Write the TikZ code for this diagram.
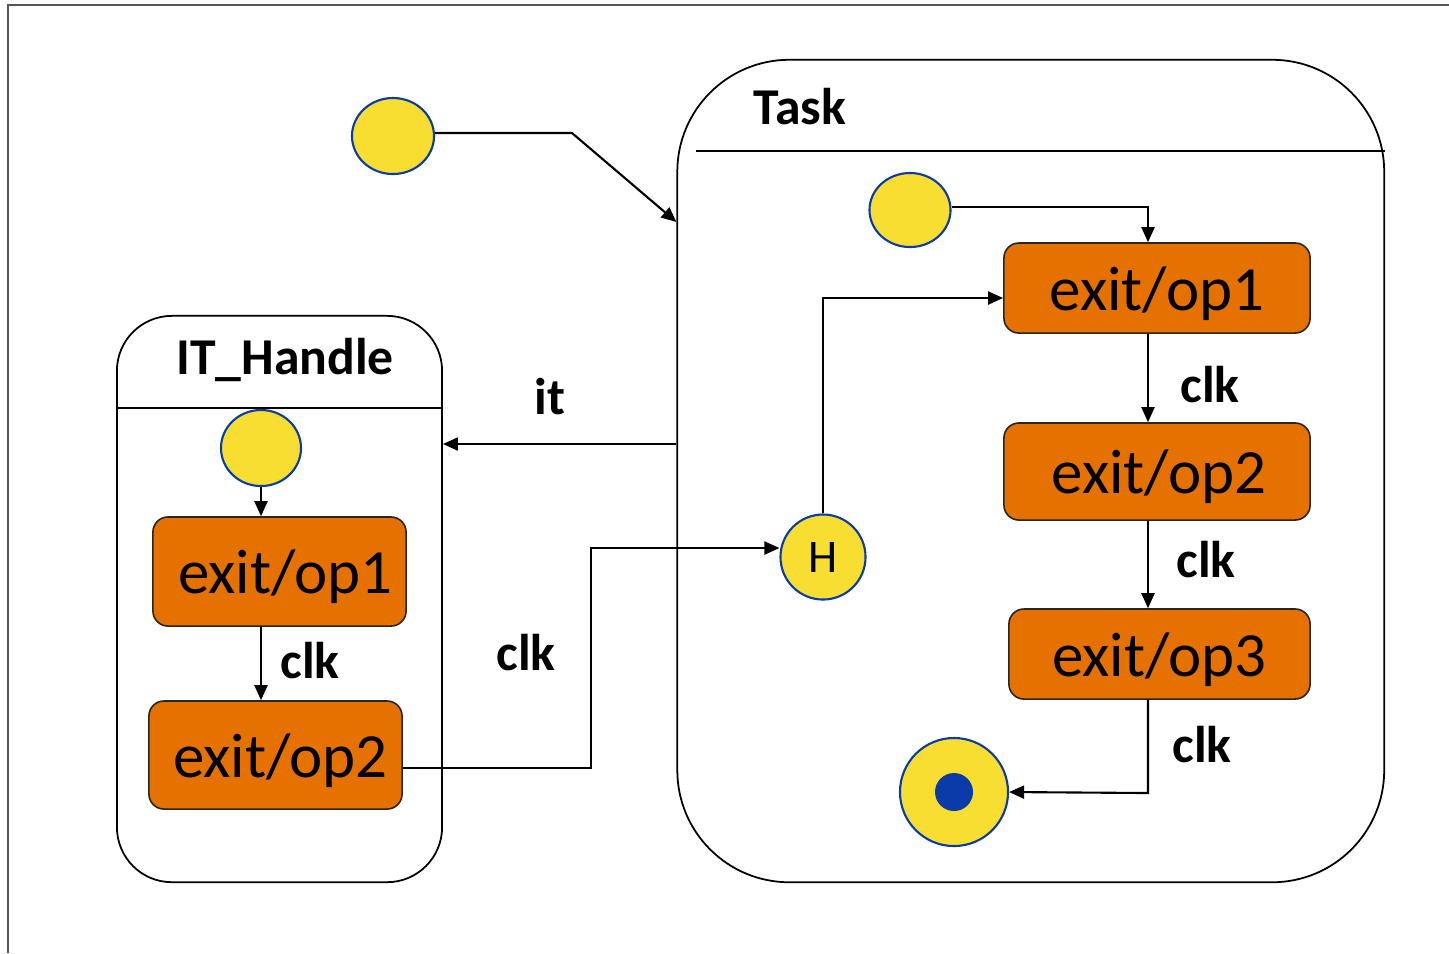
\documentclass[tikz,border=0pt]{standalone}
\usepackage{fontspec}
\setmainfont{Carlito}
\usetikzlibrary{arrows.meta,shapes.geometric}
\definecolor{stateyellow}{HTML}{F8DE30}
\definecolor{stateblue}{HTML}{0A3BA8}
\definecolor{actorange}{HTML}{E57200}
\definecolor{framegray}{HTML}{555555}
\tikzset{
  pseudo/.style={ellipse, fill=stateyellow, draw=stateblue, line width=0.6pt, inner sep=0pt},
  act/.style={rectangle, rounded corners=0.15cm, fill=actorange, draw=black!85, line width=0.45pt,
    inner sep=0pt, text height=12.6pt, text depth=0pt, font=\fontsize{17.9}{20}\selectfont},
  container/.style={rectangle, draw=black, line width=0.5pt, inner sep=0pt},
  conn/.style={line width=0.6pt, -{Triangle[length=0.15cm, width=0.13cm]}},
  evlabel/.style={font=\bfseries\fontsize{14.7}{17}\selectfont, inner sep=0pt},
}
\begin{document}
\begin{tikzpicture}[x=0.01cm, y=-0.01cm]
\useasboundingbox (0,0) rectangle (1449,953);
% outer frame
\draw[framegray, line width=0.6pt] (8,953) -- (8,5) -- (1449,5);

% composite state: Task
\node[container, rounded corners=1.12cm, minimum width=7.065cm, minimum height=8.22cm] (task) at (1030.75,471) {};
\draw[line width=0.45pt] (696,151) -- (task.east |- 0,151);
\node[evlabel] (tasktitle) at (800,107) {Task};

% composite state: IT_Handle
\node[container, rounded corners=0.55cm, minimum width=3.25cm, minimum height=5.66cm] (ith) at (279.5,599) {};
\draw[line width=0.45pt] (ith.west |- 0,408) -- (ith.east |- 0,408);
\node[evlabel] (ittitle) at (285,360) {IT\_Handle};

% top-level initial state
\node[pseudo, minimum width=0.82cm, minimum height=0.76cm] (init) at (393,136) {};

% states inside Task
\node[pseudo, minimum width=0.81cm, minimum height=0.74cm] (tinit) at (910,210) {};
\node[act, minimum width=3.06cm, minimum height=0.90cm] (op1t) at (1157,288) {exit/op1};
\node[act, minimum width=3.06cm, minimum height=0.97cm] (op2t) at (1157,471.5) {\hspace*{0.04cm}exit/op2};
\node[act, minimum width=3.01cm, minimum height=0.90cm] (op3t) at (1159.5,654) {exit/op3};
\node[pseudo, circle, minimum size=0.85cm, font=\fontsize{13.3}{15}\selectfont] (hist) at (823,557) {H};
\node[circle, fill=stateyellow, draw=stateblue, line width=0.6pt, minimum size=1.08cm, inner sep=0pt] (final) at (954,792) {};
\node[circle, fill=stateblue, minimum size=0.38cm, inner sep=0pt] (finaldot) at (final.center) {};

% states inside IT_Handle
\node[pseudo, minimum width=0.80cm, minimum height=0.76cm] (iinit) at (261,448) {};
\node[act, minimum width=2.53cm, minimum height=1.09cm] (op1i) at (279.5,571.5) {\hspace*{0.12cm}exit/op1};
\node[act, minimum width=2.53cm, minimum height=1.08cm] (op2i) at (275.5,755) {\hspace*{0.1cm}exit/op2};

% transitions
\draw[conn] (init.east |- 0,133) -- (572,133) -- (task.west |- 0,222);
\draw[conn] (tinit.east |- 0,207) -| (1148,0 |- op1t.north);
\draw[conn] (1148,0 |- op1t.south) -- (1148,0 |- op2t.north);
\draw[conn] (1148,0 |- op2t.south) -- (1148,0 |- op3t.north);
\draw[conn] (1148,0 |- op3t.south) -- (1148,793) -- (final.east);
\draw[conn] (hist.north) |- (op1t.west |- 0,298);
\draw[conn] (task.west |- 0,444) -- (ith.east |- 0,444);
\draw[conn] (iinit.south) -- (261,0 |- op1i.north);
\draw[conn] (261,0 |- op1i.south) -- (261,0 |- op2i.north);
\draw[conn] (op2i.east |- 0,768) -- (591,768) -- (591,548) -- (hist.west |- 0,548);

% transition labels
\node[evlabel] (lclk1) at (1210,385) {clk};
\node[evlabel] (lclk2) at (1206,560) {clk};
\node[evlabel] (lclk3) at (1202,745) {clk};
\node[evlabel] (lclk4) at (310,661) {clk};
\node[evlabel] (lclk5) at (526,653) {clk};
\node[evlabel] (lit) at (550,397) {it};
\end{tikzpicture}
\end{document}
